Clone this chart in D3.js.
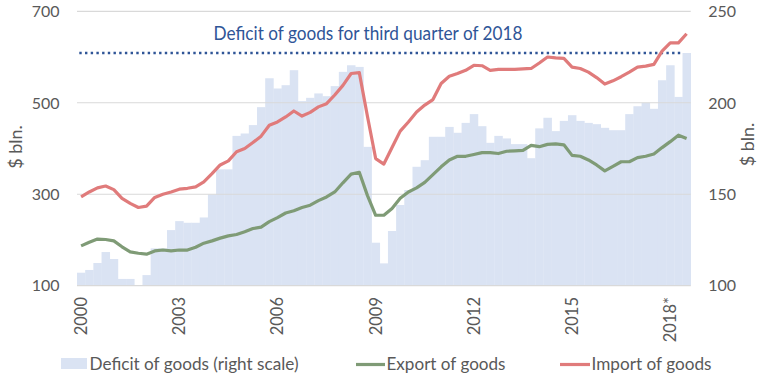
<!DOCTYPE html>
<html>
<head>
<meta charset="utf-8">
<script src="https://cdn.jsdelivr.net/npm/d3@7"></script>
<style>
  body { margin: 0; background: #fff; }
  text { font-family: Lato, "Open Sans", sans-serif; }
</style>
</head>
<body>
<script>
// quarters 2000 Q1 .. 2018 Q3
const years = [2000, 2001, 2002, 2003, 2004, 2005, 2006, 2007, 2008, 2009, 2010, 2011, 2012, 2013, 2014, 2015, 2016, 2017, 2018];
const quarters = [];
years.forEach(y => [1, 2, 3, 4].forEach(q => { if (!(y === 2018 && q === 4)) quarters.push(y + " Q" + q); }));

const tickQuarters = ["2000 Q1", "2003 Q1", "2006 Q1", "2009 Q1", "2012 Q1", "2015 Q1", "2018 Q1"];
const tickLabels = ["2000", "2003", "2006", "2009", "2012", "2015", "2018*"];
const leftTicks = [100, 300, 500, 700];
const rightTicks = [100, 150, 200, 250];

// deficit of goods, $ bln (right scale)
const deficit = [
  107.1, 108.6, 112.4, 118.4, 114.6, 103.7, 103.7, 99, 105.8, 120.4,
  120.4, 130.4, 135.3, 134.4, 134.4, 137.3, 149.9, 163.6, 163.6, 181.9,
  183.2, 187.8, 197.6, 213.4, 207.8, 209.6, 217.8, 200.9, 202.7, 205.1,
  203.6, 209.1, 216.9, 220.5, 219.6, 175.9, 123.5, 112.2, 129.9, 144.1,
  152.3, 165, 168.6, 181.4, 181.4, 186.8, 183.6, 189, 193.8, 187.2,
  178.1, 181.9, 180.5, 177.4, 177.4, 169.7, 186, 191.8, 184.5, 190.1,
  193.2, 190.1, 189, 188.3, 186.3, 185, 185, 193.8, 198.1, 200,
  196.7, 212.3, 220.5, 203.2, 227.2
];
// export of goods, $ bln (left scale)
const exports = [
  187, 195, 202, 201, 198, 185, 174, 171, 169, 176,
  178, 176, 178, 178, 184, 193, 198, 204, 209, 212,
  218, 225, 228, 240, 249, 259, 264, 271, 276, 286,
  294, 305, 325, 344, 348, 297, 254, 254, 269, 291,
  305, 314, 326, 343, 360, 375, 383, 383, 387, 391,
  391, 389, 394, 395, 396, 407, 404, 409, 410, 408,
  385, 383, 375, 364, 351, 361, 371, 371, 380, 383,
  388, 402, 415, 429, 422
];
// import of goods, $ bln (left scale)
const imports = [
  294, 305, 314, 318, 310, 291, 280, 271, 274, 293,
  300, 305, 311, 313, 316, 327, 345, 364, 373, 393,
  400, 413, 427, 451, 458, 469, 482, 471, 479, 491,
  498, 517, 538, 564, 566, 470, 378, 366, 402, 438,
  458, 480, 495, 507, 542, 558, 564, 571, 582, 581,
  571, 573, 573, 573, 574, 575, 587, 600, 598, 597,
  578, 575, 567, 555, 541, 548, 557, 567, 578, 580,
  584, 613, 631, 631, 651
];

const title = "Deficit of goods for third quarter of 2018";

const width = 765, height = 384;
const barColor = "#dae3f3", exportColor = "#7f9b76", importColor = "#e07b7b";
const axisColor = "#595959", gridColor = "#d9d9d9", blue = "#2f5597";

const svg = d3.select("body").append("svg")
  .attr("width", width)
  .attr("height", height);

const x = d3.scaleBand().domain(quarters).range([77, 690.7]).padding(0);
const yL = d3.scaleLinear().domain([100, 700]).range([285.7, 11.3]);
const yR = d3.scaleLinear().domain([100, 250]).range([285.7, 11.3]);

// bars (deficit)
svg.append("g")
  .selectAll("rect")
  .data(quarters)
  .enter()
  .append("rect")
  .attr("x", d => x(d))
  .attr("width", x.bandwidth() + 0.3)
  .attr("y", (d, i) => yR(Math.max(deficit[i], 100)))
  .attr("height", (d, i) => yR(100) - yR(Math.max(deficit[i], 100)))
  .attr("fill", barColor);

// gridlines
svg.append("g")
  .selectAll("line")
  .data(leftTicks)
  .enter()
  .append("line")
  .attr("x1", 77).attr("x2", 690.7)
  .attr("y1", d => yL(d)).attr("y2", d => yL(d))
  .attr("stroke", gridColor)
  .attr("stroke-width", 1.2);

// dotted line at last deficit value
const last = quarters.length - 1;
svg.append("line")
  .attr("x1", 79.3).attr("x2", 682)
  .attr("y1", yR(deficit[last])).attr("y2", yR(deficit[last]))
  .attr("stroke", blue)
  .attr("stroke-width", 2.4)
  .attr("stroke-dasharray", "2.4 3.3");

svg.append("text")
  .attr("x", 368).attr("y", 40)
  .attr("text-anchor", "middle")
  .attr("font-size", 18.5)
  .attr("fill", blue)
  .attr("textLength", 309)
  .attr("lengthAdjust", "spacingAndGlyphs")
  .text(title);

// lines
const line = vals => d3.line()
  .x((d, i) => x(quarters[i]) + x.bandwidth() / 2)
  .y(d => yL(d))(vals);

svg.append("path")
  .attr("d", line(exports))
  .attr("fill", "none")
  .attr("stroke", exportColor)
  .attr("stroke-width", 3.2)
  .attr("stroke-linejoin", "round");

svg.append("path")
  .attr("d", line(imports))
  .attr("fill", "none")
  .attr("stroke", importColor)
  .attr("stroke-width", 3.2)
  .attr("stroke-linejoin", "round");

// left axis labels
svg.append("g")
  .selectAll("text")
  .data(leftTicks)
  .enter()
  .append("text")
  .attr("x", 59.5)
  .attr("y", d => yL(d))
  .attr("dy", "0.36em")
  .attr("text-anchor", "end")
  .attr("font-size", 16)
  .attr("fill", axisColor)
  .text(d => d);

// right axis labels
svg.append("g")
  .selectAll("text")
  .data(rightTicks)
  .enter()
  .append("text")
  .attr("x", 708.3)
  .attr("y", d => yR(d))
  .attr("dy", "0.36em")
  .attr("font-size", 16)
  .attr("fill", axisColor)
  .text(d => d);

// x labels
svg.append("g")
  .selectAll("text")
  .data(tickQuarters)
  .enter()
  .append("text")
  .attr("transform", d => "translate(" + (x(d) + x.bandwidth() / 2) + ",297) rotate(-90)")
  .attr("dy", "0.36em")
  .attr("text-anchor", "end")
  .attr("font-size", 16.5)
  .attr("fill", axisColor)
  .text((d, i) => tickLabels[i]);

// axis titles
svg.append("text")
  .attr("transform", "translate(22,147) rotate(-90)")
  .attr("text-anchor", "middle")
  .attr("font-size", 18)
  .attr("fill", axisColor)
  .text("$ bln.");

svg.append("text")
  .attr("transform", "translate(754,144.5) rotate(-90)")
  .attr("text-anchor", "middle")
  .attr("font-size", 18)
  .attr("fill", axisColor)
  .text("$ bln.");

// legend
const legend = svg.append("g");
legend.append("rect")
  .attr("x", 61).attr("y", 358).attr("width", 26).attr("height", 11)
  .attr("fill", barColor);
legend.append("text")
  .attr("x", 89.5).attr("y", 370)
  .attr("font-size", 17.5).attr("fill", axisColor)
  .attr("textLength", 209).attr("lengthAdjust", "spacingAndGlyphs")
  .text("Deficit of goods (right scale)");

legend.append("line")
  .attr("x1", 356).attr("x2", 385).attr("y1", 364.5).attr("y2", 364.5)
  .attr("stroke", exportColor).attr("stroke-width", 3.2);
legend.append("text")
  .attr("x", 386.5).attr("y", 370)
  .attr("font-size", 17.5).attr("fill", axisColor)
  .attr("textLength", 119).attr("lengthAdjust", "spacingAndGlyphs")
  .text("Export of goods");

legend.append("line")
  .attr("x1", 560).attr("x2", 590).attr("y1", 364.5).attr("y2", 364.5)
  .attr("stroke", importColor).attr("stroke-width", 3.2);
legend.append("text")
  .attr("x", 591.5).attr("y", 370)
  .attr("font-size", 17.5).attr("fill", axisColor)
  .attr("textLength", 120).attr("lengthAdjust", "spacingAndGlyphs")
  .text("Import of goods");
</script>
</body>
</html>
